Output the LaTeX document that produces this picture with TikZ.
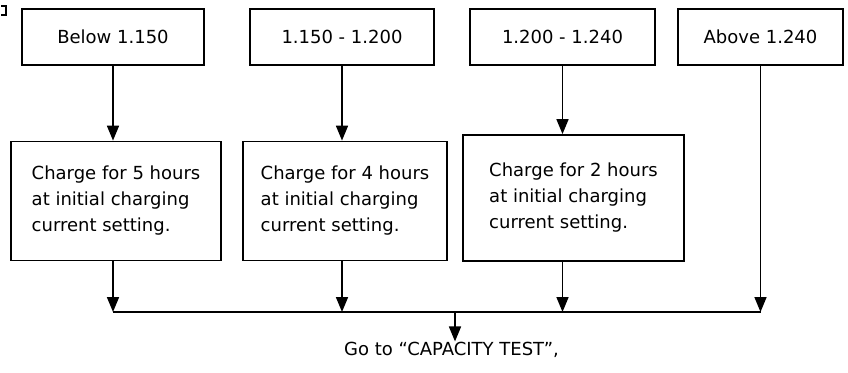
\documentclass[tikz,border=0pt]{standalone}
\usepackage{fontspec}
\setmainfont{DejaVu Sans}
\usetikzlibrary{arrows.meta}
\begin{document}
\begin{tikzpicture}[x=1pt,y=-1pt,
  box/.style={draw,line width=1.8pt,rectangle,inner sep=0pt,font=\fontsize{18}{26}\selectfont,align=left},
  conn/.style={line width=1.7pt},
  arr/.style={conn,-{Triangle[width=12pt,length=15pt]}},
  lbl/.style={font=\fontsize{18}{26}\selectfont,inner sep=0pt}]
\useasboundingbox (0,0) rectangle (848,372);
% scan mark at top left
\draw[line width=1.5pt] (1,6) -- (6,6) -- (6,15) -- (1,15);
% top boxes
\node[box,minimum width=182pt,minimum height=56pt] (t1) at (113,37) {Below 1.150};
\node[box,minimum width=184pt,minimum height=56pt] (t2) at (342,37) {1.150 - 1.200};
\node[box,minimum width=185pt,minimum height=56pt] (t3) at (562.5,37) {1.200 - 1.240};
\node[box,minimum width=165pt,minimum height=56pt] (t4) at (760.5,37) {Above 1.240};
% middle boxes
\node[box,minimum width=210pt,minimum height=119pt] (m1) at (116,201) {Charge for 5 hours\\at initial charging\\current setting.};
\node[box,minimum width=204pt,minimum height=119pt] (m2) at (345,201) {Charge for 4 hours\\at initial charging\\current setting.};
\node[box,minimum width=221pt,minimum height=126pt] (m3) at (573.5,198) {Charge for 2 hours\\at initial charging\\current setting.};
% bus and goal
\coordinate (j) at (455,312);
\node[lbl,anchor=base] (go) at (451.5,355) {Go to ``CAPACITY TEST'',};
% connectors
\draw[arr] (t1.south) -- (t1.south |- m1.north);
\draw[arr] (t2.south) -- (t2.south |- m2.north);
\draw[arr] (t3.south) -- (t3.south |- m3.north);
\draw[arr] (m1.south -| t1.south) -- (t1.south |- j);
\draw[arr] (m2.south -| t2.south) -- (t2.south |- j);
\draw[arr] (m3.south -| t3.south) -- (t3.south |- j);
\draw[arr] (t4.south) -- (t4.south |- j);
\draw[conn] (t1.south |- j) -- (t4.south |- j);
\draw[arr] (j) -- (j |- go.north);
\end{tikzpicture}
\end{document}
